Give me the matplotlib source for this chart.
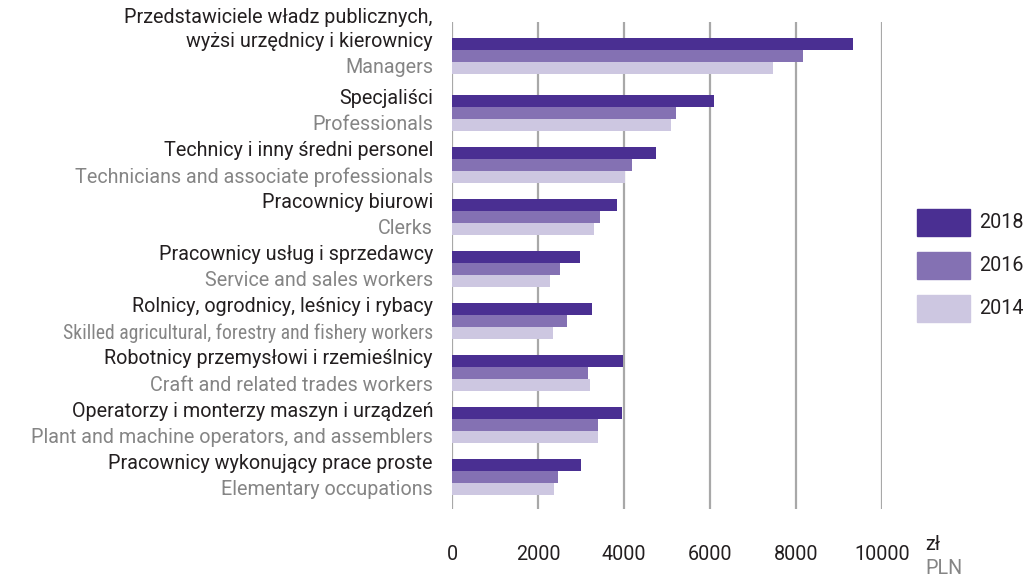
import matplotlib
matplotlib.use("Agg")
import matplotlib.pyplot as plt
import numpy as np
from matplotlib.patches import Rectangle

plt.rcParams['font.family'] = ['Roboto', 'DejaVu Sans']

categories_pl = [
    "Przedstawiciele władz publicznych,\nwyżsi urzędnicy i kierownicy",
    "Specjaliści",
    "Technicy i inny średni personel",
    "Pracownicy biurowi",
    "Pracownicy usług i sprzedawcy",
    "Rolnicy, ogrodnicy, leśnicy i rybacy",
    "Robotnicy przemysłowi i rzemieślnicy",
    "Operatorzy i monterzy maszyn i urządzeń",
    "Pracownicy wykonujący prace proste",
]
categories_en = [
    "Managers",
    "Professionals",
    "Technicians and associate professionals",
    "Clerks",
    "Service and sales workers",
    "Skilled agricultural, forestry and fishery workers",
    "Craft and related trades workers",
    "Plant and machine operators, and assemblers",
    "Elementary occupations",
]
years = ["2018", "2016", "2014"]
values_2018 = [9330, 6100, 4750, 3845, 2985, 3265, 3985, 3960, 3005]
values_2016 = [8170, 5215, 4195, 3450, 2520, 2680, 3170, 3400, 2470]
values_2014 = [7465, 5100, 4030, 3310, 2285, 2355, 3215, 3400, 2380]
xticks = [0, 2000, 4000, 6000, 8000, 10000]

series = [values_2018, values_2016, values_2014]
colors = ["#4a2f92", "#8471b3", "#cdc7e1"]
dark = "#231f20"
grey = "#858585"
FS = 14.2
MAX_LABEL_W = 410  # px; longer labels are condensed like in the original

W, H = 1029, 578
fig = plt.figure(figsize=(W / 100, H / 100), dpi=100)
ax_left, ax_right, ax_top, ax_bottom = 452, 882, 22, 509
ax = fig.add_axes([ax_left / W, 1 - ax_bottom / H, (ax_right - ax_left) / W, (ax_bottom - ax_top) / H])

n = len(categories_pl)
pos = np.arange(n, dtype=float)
pos[0] -= 0.09
bh = 0.232
for i, (vals, c) in enumerate(zip(series, colors)):
    ax.barh(pos + (i - 1) * bh, vals, height=bh, color=c, zorder=3, linewidth=0)

ax.set_xlim(0, 10000)
ax.set_ylim(8.61, -0.74)
ax.set_xticks(xticks)
ax.set_xticklabels([str(t) for t in xticks], fontsize=FS, color=dark)
ax.tick_params(axis='x', length=0, pad=26)
ax.set_yticks([])
for s in ax.spines.values():
    s.set_visible(False)
ax.grid(axis='x', color="#a8a8a8", linewidth=1.6, zorder=1)
ax.set_axisbelow(True)

labels = []
for p, pl, en in zip(pos, categories_pl, categories_en):
    lines = pl.split("\n")
    for k, line in enumerate(reversed(lines)):
        labels.append(ax.annotate(line, xy=(0, p - bh), xycoords=('axes fraction', 'data'),
                                  xytext=(-19, 2 + 24 * k), textcoords='offset pixels',
                                  ha='right', va='center', fontsize=FS, color=dark))
    labels.append(ax.annotate(en, xy=(0, p + bh), xycoords=('axes fraction', 'data'),
                              xytext=(-19, 0), textcoords='offset pixels', ha='right',
                              va='center', fontsize=FS, color=grey))

fig.canvas.draw()
r = fig.canvas.get_renderer()
for t in labels:
    w = t.get_window_extent(r).width
    if w > MAX_LABEL_W:
        t.set_fontfamily(['Roboto Condensed', 'Roboto', 'DejaVu Sans'])
        w2 = t.get_window_extent(r).width
        if w2 > MAX_LABEL_W:
            t.set_fontsize(FS * MAX_LABEL_W / w2)

fig.text(925 / W, 1 - 545 / H, "zł", fontsize=FS, color=dark, va='center', ha='left')
fig.text(925 / W, 1 - 568 / H, "PLN", fontsize=FS, color=grey, va='center', ha='left')

leg_tops = [209, 252, 295]
for yr, c, t in zip(years, colors, leg_tops):
    fig.patches.append(Rectangle((917 / W, 1 - (t + 27) / H), 53 / W, 27 / H,
                                 transform=fig.transFigure, color=c, figure=fig))
    fig.text(979 / W, 1 - (t + 13.5) / H, yr, fontsize=FS, color=dark, va='center', ha='left')

fig.savefig("out.png", dpi=100)
